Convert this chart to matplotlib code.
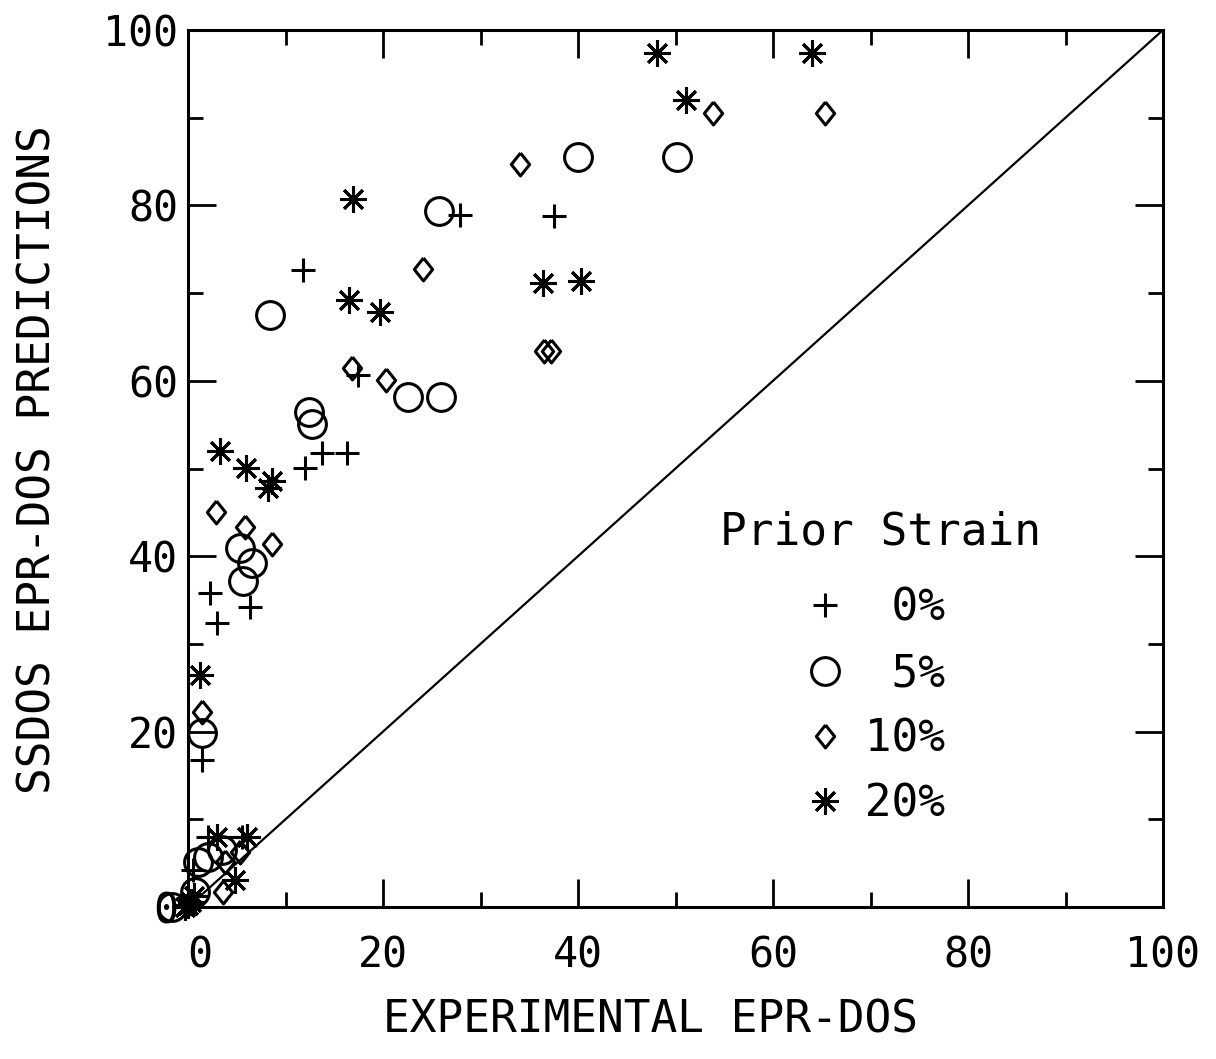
import matplotlib
matplotlib.use("Agg")
import matplotlib.pyplot as plt
from matplotlib.ticker import MultipleLocator
from matplotlib.transforms import ScaledTranslation

# ---------------- data ----------------
strain0_x = [11.8, 27.9, 37.5, 17.4, 12.0, 13.7, 16.3, 2.3, 3.0, 6.4, 1.4, 0.5, 2.0, 5.5]
strain0_y = [72.6, 78.9, 78.8, 60.7, 50.1, 51.8, 51.8, 35.8, 32.4, 34.2, 16.8, 4.2, 8.0, 8.0]

strain5_x = [8.4, 25.7, 40.0, 50.2, 12.4, 12.7, 22.6, 25.9, 5.3, 6.6, 5.6, 1.4, 1.0, 2.1, 0.7, -1.6, 3.5]
strain5_y = [67.5, 79.4, 85.5, 85.5, 56.4, 55.1, 58.2, 58.2, 40.9, 39.2, 37.2, 19.8, 5.1, 5.7, 1.7, 0.0, 6.5]

strain10_x = [34.0, 53.8, 65.3, 24.1, 16.8, 20.3, 36.5, 37.2, 2.9, 5.8, 8.6, 1.4, 3.6, 5.3, 3.8, 0.3]
strain10_y = [84.7, 90.5, 90.5, 72.7, 61.5, 60.1, 63.4, 63.4, 45.0, 43.3, 41.4, 22.2, 1.7, 6.3, 5.1, 0.5]

strain20_x = [48.1, 64.0, 51.1, 16.9, 16.5, 19.7, 36.4, 40.3, 3.3, 5.9, 8.2, 8.6, 1.2, 3.0, 6.1, 4.8, 0.0, 0.3, -0.3, 0.6]
strain20_y = [97.4, 97.4, 92.0, 80.7, 69.2, 67.8, 71.2, 71.4, 52.0, 50.1, 47.8, 48.6, 26.5, 8.0, 8.0, 3.1, 0.2, 0.6, 0.0, 1.2]

series_labels = ["  0%", "  5%", " 10%", " 20%"]
legend_title = "Prior Strain"
x_label = "EXPERIMENTAL EPR-DOS"
y_label = "SSDOS EPR-DOS PREDICTIONS"
tick_values = [0, 20, 40, 60, 80, 100]
diag = [0, 100]

# ---------------- figure ----------------
FONT = "DejaVu Sans Mono"
fig = plt.figure(figsize=(12.16, 10.59), dpi=100)
ax = fig.add_axes([188 / 1216, 1 - 907 / 1059, 975 / 1216, 877 / 1059])

ax.plot(diag, diag, color="black", lw=1.6, zorder=1)

diamond = [(0, 1), (0.8, 0), (0, -1), (-0.8, 0), (0, 1)]
mew = 2.2
common = dict(ls="none", color="black", clip_on=False, zorder=3)
ax.plot(strain0_x, strain0_y, marker="+", ms=17, mew=mew, label=series_labels[0], **common)
ax.plot(strain5_x, strain5_y, marker="o", ms=20, mew=mew, mfc="none", label=series_labels[1], **common)
ax.plot(strain10_x, strain10_y, marker=diamond, ms=16.5, mew=mew, mfc="none", label=series_labels[2], **common)
ax.plot(strain20_x, strain20_y, marker=(8, 2, 0), ms=19, mew=mew, label=series_labels[3], **common)

ax.set_xlim(0, 100)
ax.set_ylim(0, 100)
ax.set_xticks(tick_values)
ax.set_yticks(tick_values)
ax.xaxis.set_minor_locator(MultipleLocator(10))
ax.yaxis.set_minor_locator(MultipleLocator(10))
ax.tick_params(which="both", direction="in", top=True, right=True, width=2.0)
ax.tick_params(which="major", length=20)
ax.tick_params(which="minor", length=11)
ax.tick_params(axis="x", which="major", pad=20, labelsize=30)
ax.tick_params(axis="y", which="major", pad=7, labelsize=30)
for lab in ax.get_xticklabels() + ax.get_yticklabels():
    lab.set_fontfamily(FONT)
for s in ax.spines.values():
    s.set_linewidth(2.2)

# shift x "0" label slightly right as in reference
for lab in ax.get_xticklabels():
    if lab.get_text() == "0":
        lab.set_transform(lab.get_transform() + ScaledTranslation(0.12, 0, fig.dpi_scale_trans))

ax.set_xlabel(x_label, fontsize=32, fontfamily=FONT)
ax.xaxis.set_label_coords(0.474, -0.129)
ax.xaxis.label.set_va("center")
ax.set_ylabel(y_label, fontsize=32, fontfamily=FONT)
ax.yaxis.set_label_coords(-0.154, 0.51)
ax.yaxis.label.set_va("center")

ax.text(0.5456, 0.4276, legend_title, transform=ax.transAxes, ha="left", va="center",
        fontsize=32, fontfamily=FONT)
leg = ax.legend(loc="upper left", bbox_to_anchor=(0.6396, 0.365),
                frameon=False, prop={"family": FONT, "size": 32},
                handlelength=0.6, handletextpad=0.0, labelspacing=0.5,
                borderpad=0, borderaxespad=0)

fig.savefig("out.png", dpi=100)
